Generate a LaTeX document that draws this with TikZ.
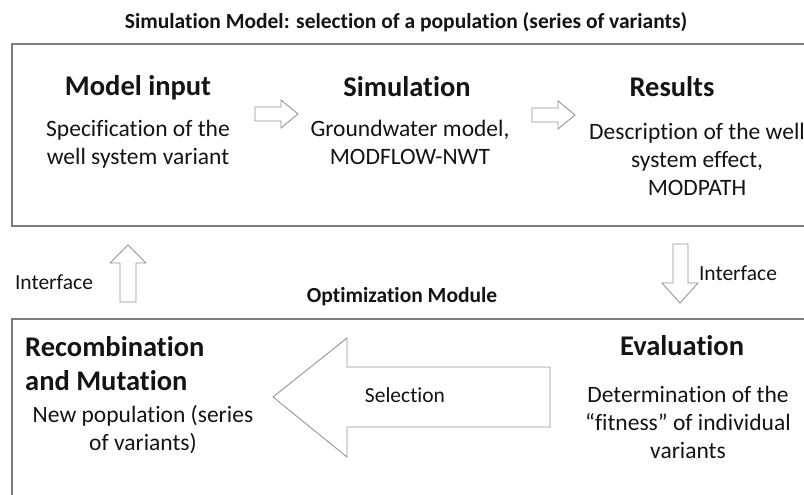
\documentclass[tikz,border=0pt]{standalone}
\usepackage{fontspec}
\setmainfont{Carlito}[Ligatures=NoCommon]
\definecolor{boxline}{RGB}{125,125,125}
\definecolor{arrline}{RGB}{150,150,150}
\definecolor{txt}{RGB}{20,20,20}
\tikzset{
  frame/.style={draw=boxline, line width=1.3pt},
  blockarrow/.style={draw=arrline, fill=white, line width=0.9pt, line join=miter},
  title/.style={font=\fontsize{21.5}{25}\selectfont\bfseries, text=txt, inner sep=0pt},
  head/.style={font=\fontsize{28.5}{34}\selectfont\bfseries, text=txt, inner sep=0pt},
  body/.style={font=\fontsize{23.5}{28}\selectfont, text=txt, align=center, inner sep=0pt},
  small/.style={font=\fontsize{21.5}{26}\selectfont, text=txt, inner sep=0pt},
}
\begin{document}
\begin{tikzpicture}[x=1pt, y=-1pt]
\useasboundingbox (0,0) rectangle (804,495);
\clip (0,0) rectangle (804,495);
\fill[white] (0,0) rectangle (804,495);

% title
\node[title] (ttl) at (406,22) {Simulation Model: selection of a population (series of variants)};

% top frame
\draw[frame] (12,44) rectangle (830,226);

\node[head] (minput) at (138,88) {Model input};
\node[body] (mtext) at (138,144) {Specification of the\\well system variant};

\node[head] (sim) at (407,87) {Simulation};
\node[body] (stext) at (410,142) {Groundwater model,\\MODFLOW-NWT};

\node[head] (res) at (672,87) {Results};
\node[body] (rtext) at (697,159) {Description of the well\\system effect,\\MODPATH};

% small right arrows
\draw[blockarrow] (255,107) -- (281,107) -- (281,100) -- (298,114) -- (281,128) -- (281,121) -- (255,121) -- cycle;
\draw[blockarrow] (532,108) -- (558,108) -- (558,101) -- (575,115) -- (558,129) -- (558,122) -- (532,122) -- cycle;

% interfaces
\node[small] (ifl) at (54,282) {Interface};
\draw[blockarrow] (120,302) -- (120,263) -- (110,263) -- (128,245) -- (146,263) -- (136,263) -- (136,302) -- cycle;

\node[small] (ifr) at (738,273) {Interface};
\draw[blockarrow] (673,244) -- (688,244) -- (688,283) -- (698,283) -- (680,303) -- (662,283) -- (673,283) -- cycle;

\node[title] (opt) at (402,297) {Optimization Module};

% bottom frame
\draw[frame] (12,319) rectangle (830,520);

\node[head, anchor=west, align=left] (rec) at (25,364) {Recombination\\and Mutation};
\node[body] (rtxt) at (143,430) {New population (series\\of variants)};

% big selection arrow
\draw[blockarrow] (550,367) -- (347,367) -- (347,338) -- (273,397) -- (347,457) -- (347,427) -- (550,427) -- cycle;
\node[small] (sel) at (405,395) {Selection};

\node[head] (eval) at (682,346) {Evaluation};
\node[body] (etxt) at (688,422) {Determination of the\\“fitness” of individual\\variants};
\end{tikzpicture}
\end{document}
